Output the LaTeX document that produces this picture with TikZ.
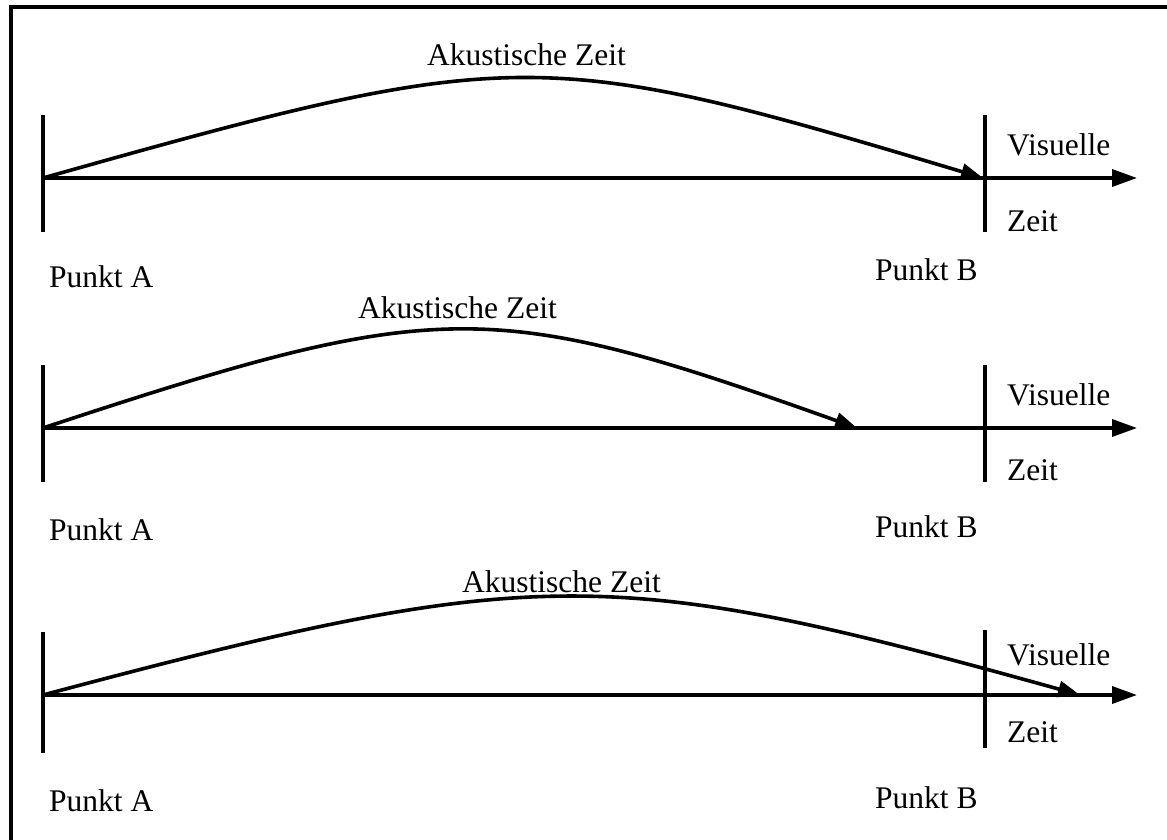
\documentclass[tikz,border=0pt]{standalone}
\usepackage{fontspec}
\setmainfont{Liberation Serif}
\usetikzlibrary{arrows.meta}
\tikzset{
  ln/.style={line width=3.6pt},
  axisarrow/.style={ln,-{Triangle[length=25pt,width=17pt]}},
  curvearrow/.style={ln,-{Triangle[length=22pt,width=16pt]}},
  lbl/.style={anchor=base west,inner sep=0pt,font=\fontsize{31.5}{36}\selectfont},
}
\begin{document}
\begin{tikzpicture}[x=1pt,y=-1pt]
\useasboundingbox (0,0) rectangle (1167,840);
% frame (only left and top visible)
\coordinate (F0) at (11,7);
\coordinate (F1) at (1170,7);
\coordinate (F2) at (11,845);
\draw[line width=4pt] (F2) -- (F0) -- (F1);

% ---------- Row 1 ----------
\coordinate (A1) at (43,178);
\coordinate (E1) at (1137,178);
\coordinate (AT1) at (43,115);
\coordinate (AB1) at (43,232);
\coordinate (BT1) at (985,115);
\coordinate (BB1) at (985,232);
\coordinate (C1) at (983,178);
\draw[ln] (AT1) -- (AB1);
\draw[ln] (BT1) -- (BB1);
\draw[axisarrow] (A1) -- (E1);
\draw[curvearrow] (A1) .. controls (515,45) and (540,45) .. (C1);
\node[lbl] (ak1) at (427,66) {Akustische Zeit};
\node[lbl] (vis1) at (1007,155) {Visuelle};
\node[lbl] (zt1) at (1007,231) {Zeit};
\node[lbl] (pa1) at (49,287) {Punkt A};
\node[lbl] (pb1) at (875,280) {Punkt B};

% ---------- Row 2 ----------
\coordinate (A2) at (43,428);
\coordinate (E2) at (1137,428);
\coordinate (AT2) at (43,365);
\coordinate (AB2) at (43,482);
\coordinate (BT2) at (985,365);
\coordinate (BB2) at (985,482);
\coordinate (C2) at (857,428);
\draw[ln] (AT2) -- (AB2);
\draw[ln] (BT2) -- (BB2);
\draw[axisarrow] (A2) -- (E2);
\draw[curvearrow] (A2) .. controls (440,297) and (490,297) .. (C2);
\node[lbl] (ak2) at (358,318) {Akustische Zeit};
\node[lbl] (vis2) at (1007,405) {Visuelle};
\node[lbl] (zt2) at (1007,480) {Zeit};
\node[lbl] (pa2) at (49,540) {Punkt A};
\node[lbl] (pb2) at (875,537) {Punkt B};

% ---------- Row 3 ----------
\coordinate (A3) at (43,695);
\coordinate (E3) at (1137,695);
\coordinate (AT3) at (43,632);
\coordinate (AB3) at (43,753);
\coordinate (BT3) at (985,630);
\coordinate (BB3) at (985,748);
\coordinate (C3) at (1080,695);
\draw[ln] (AT3) -- (AB3);
\draw[ln] (BT3) -- (BB3);
\draw[axisarrow] (A3) -- (E3);
\draw[curvearrow] (A3) .. controls (535,564) and (610,564) .. (C3);
\node[lbl] (ak3) at (462,592) {Akustische Zeit};
\node[lbl] (vis3) at (1007,665) {Visuelle};
\node[lbl] (zt3) at (1007,742) {Zeit};
\node[lbl] (pa3) at (49,811) {Punkt A};
\node[lbl] (pb3) at (875,808) {Punkt B};
\end{tikzpicture}
\end{document}
